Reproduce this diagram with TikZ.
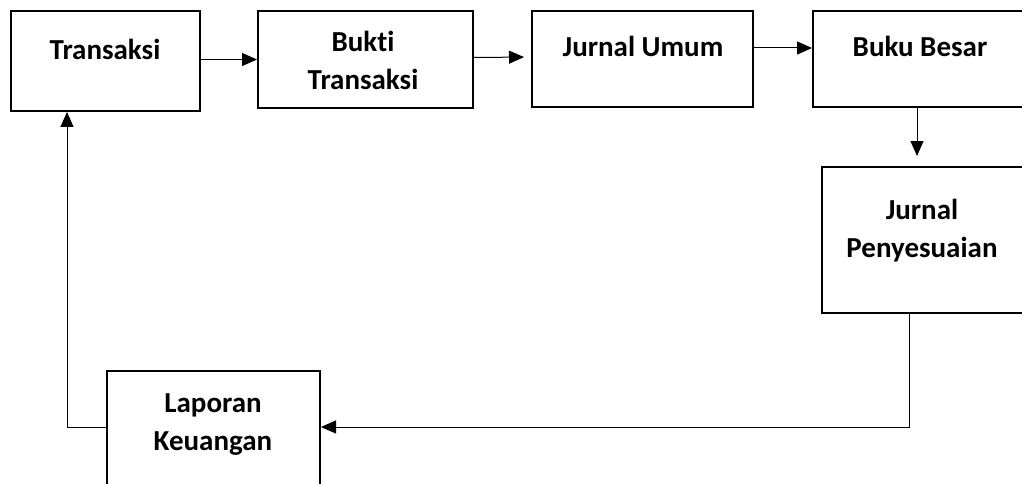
\documentclass[tikz,border=0pt]{standalone}
\usepackage{fontspec}
\setmainfont{Carlito}[Ligatures=NoCommon]
\usetikzlibrary{arrows.meta,calc}
\begin{document}
\begin{tikzpicture}[x=1pt,y=-1pt,
  box/.style={draw, line width=2pt, inner sep=0pt},
  lbl/.style={font=\fontsize{29}{38}\selectfont\bfseries, align=center, inner sep=0pt, anchor=base},
  flow/.style={line width=1pt, -{Triangle[length=15pt,width=13pt]}},
  ]
\useasboundingbox (0,0) rectangle (1022,484);
\clip (0,0) rectangle (1022,484);
\fill[white] (0,0) rectangle (1022,484);

% process boxes
\node[box, minimum width=189pt, minimum height=100pt] (trans)  at (105.5,61)  {};
\node[box, minimum width=215pt, minimum height=97pt]  (bukti)  at (365.5,59.5) {};
\node[box, minimum width=221pt, minimum height=96pt]  (jurnal) at (642.5,59)  {};
\node[box, minimum width=214pt, minimum height=96pt]  (buku)   at (920,59)    {};
\node[box, minimum width=203pt, minimum height=146pt] (penyes) at (923.5,240) {};
\node[box, minimum width=213pt, minimum height=130pt] (lap)    at (213.5,436) {};

% box labels (base anchor sits on the last line)
\node[lbl] (transT)  at (105,60)  {Transaksi};
\node[lbl] (buktiT)  at (363,90)  {Bukti\\Transaksi};
\node[lbl] (jurnalT) at (643,57)  {Jurnal Umum};
\node[lbl] (bukuT)   at (920,57)  {Buku Besar};
\node[lbl] (penyesT) at (922,257) {Jurnal\\Penyesuaian};
\node[lbl] (lapT)    at (213,450) {Laporan\\Keuangan};

% flow along the top row
\draw[flow] (trans.east |- bukti.west) -- (bukti.west);
\draw[flow, shorten >=7pt] ([yshift=2pt]bukti.east) -- ([yshift=2pt]jurnal.west);
\draw[flow] ([yshift=11pt]jurnal.east) -- ([yshift=11pt]buku.west);
\coordinate (drop) at (917,0);
\draw[flow, shorten >=10pt] (buku.south -| drop) -- (penyes.north -| drop);

% return path back to the start
\coordinate (turnR) at (909,427);
\coordinate (turnL) at (67,427);
\draw[flow] (penyes.south -| turnR) -- (turnR) -- (lap.east |- turnR);
\draw[flow] (lap.west |- turnL) -- (turnL) -- (trans.south -| turnL);
\end{tikzpicture}
\end{document}
